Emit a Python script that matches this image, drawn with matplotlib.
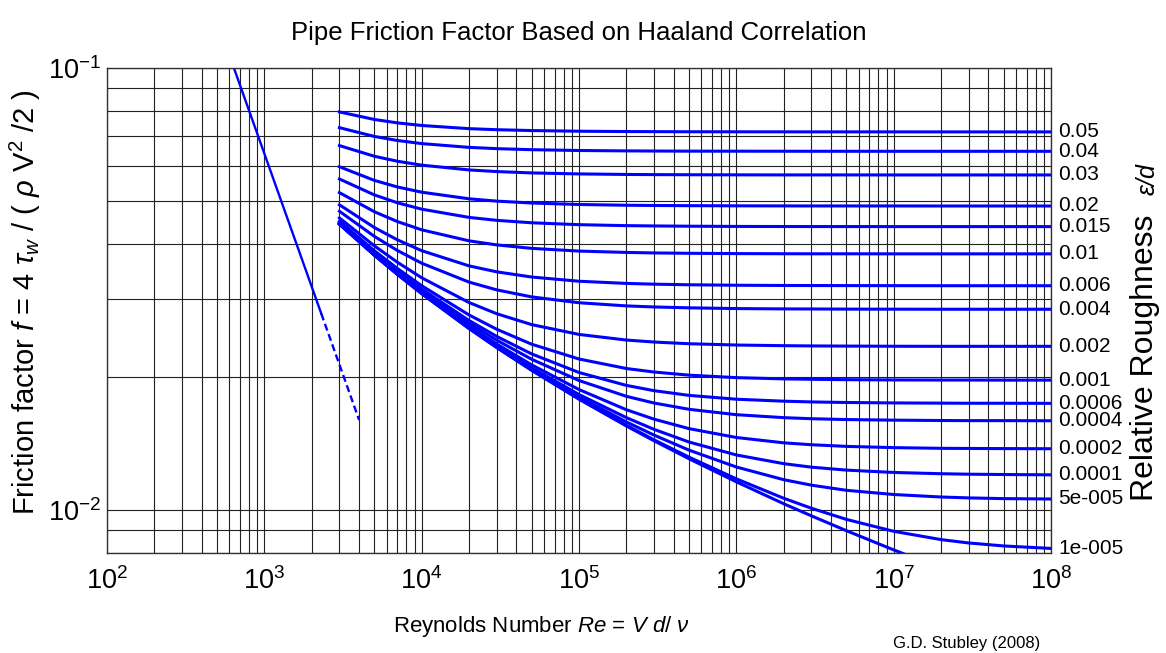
"""Pipe friction factor chart (Haaland correlation), redrawn from the reference image."""
import matplotlib

matplotlib.use("Agg")
import matplotlib.pyplot as plt
from matplotlib.ticker import LogLocator, NullFormatter, LogFormatterSciNotation

# --- data ---
RE_TURB = [3e3, 5e3, 7e3, 1e4, 2e4, 3e4, 5e4, 1e5, 2e5, 3e5,
           5e5, 1e6, 2e6, 3e6, 5e6, 1e7, 2e7, 3e7, 5e7, 1e8]

f_0p05 = [0.07954, 0.07648, 0.07514, 0.07412, 0.07291, 0.07251, 0.07219, 0.07194, 0.07182, 0.07178,
          0.07174, 0.07172, 0.07171, 0.07170, 0.07170, 0.07170, 0.07169, 0.07169, 0.07169, 0.07169]
f_0p04 = [0.07329, 0.07001, 0.06856, 0.06745, 0.06614, 0.06570, 0.06534, 0.06507, 0.06494, 0.06489,
          0.06485, 0.06483, 0.06482, 0.06481, 0.06481, 0.06480, 0.06480, 0.06480, 0.06480, 0.06480]
f_0p03 = [0.06675, 0.06315, 0.06153, 0.06029, 0.05881, 0.05831, 0.05790, 0.05760, 0.05744, 0.05739,
          0.05735, 0.05732, 0.05730, 0.05730, 0.05730, 0.05729, 0.05729, 0.05729, 0.05729, 0.05729]
f_0p02 = [0.05979, 0.05569, 0.05382, 0.05237, 0.05060, 0.04999, 0.04950, 0.04912, 0.04893, 0.04887,
          0.04882, 0.04878, 0.04876, 0.04875, 0.04875, 0.04875, 0.04874, 0.04874, 0.04874, 0.04874]
f_0p015 = [0.05610, 0.05164, 0.04957, 0.04794, 0.04593, 0.04523, 0.04466, 0.04422, 0.04400, 0.04393,
           0.04387, 0.04382, 0.04380, 0.04379, 0.04379, 0.04378, 0.04378, 0.04378, 0.04378, 0.04378]
f_0p01 = [0.05225, 0.04731, 0.04495, 0.04305, 0.04065, 0.03980, 0.03909, 0.03854, 0.03827, 0.03817,
          0.03810, 0.03804, 0.03801, 0.03800, 0.03800, 0.03799, 0.03799, 0.03799, 0.03799, 0.03799]
f_0p006 = [0.04904, 0.04357, 0.04087, 0.03862, 0.03568, 0.03459, 0.03367, 0.03294, 0.03257, 0.03244,
           0.03234, 0.03226, 0.03222, 0.03221, 0.03220, 0.03219, 0.03218, 0.03218, 0.03218, 0.03218]
f_0p004 = [0.04742, 0.04161, 0.03867, 0.03618, 0.03279, 0.03149, 0.03036, 0.02945, 0.02897, 0.02881,
           0.02868, 0.02857, 0.02852, 0.02851, 0.02849, 0.02848, 0.02847, 0.02847, 0.02847, 0.02847]
f_0p002 = [0.04580, 0.03961, 0.03637, 0.03354, 0.02948, 0.02781, 0.02628, 0.02497, 0.02425, 0.02400,
           0.02379, 0.02363, 0.02355, 0.02352, 0.02350, 0.02348, 0.02347, 0.02347, 0.02347, 0.02347]
f_0p001 = [0.04503, 0.03862, 0.03521, 0.03218, 0.02763, 0.02565, 0.02373, 0.02197, 0.02091, 0.02053,
           0.02020, 0.01994, 0.01981, 0.01977, 0.01973, 0.01970, 0.01969, 0.01969, 0.01968, 0.01968]
f_6em4 = [0.04473, 0.03824, 0.03476, 0.03163, 0.02685, 0.02471, 0.02256, 0.02048, 0.01915, 0.01863,
          0.01818, 0.01782, 0.01764, 0.01757, 0.01752, 0.01748, 0.01746, 0.01745, 0.01745, 0.01744]
f_4em4 = [0.04459, 0.03806, 0.03454, 0.03137, 0.02647, 0.02423, 0.02194, 0.01964, 0.01809, 0.01747,
          0.01691, 0.01644, 0.01619, 0.01610, 0.01603, 0.01598, 0.01595, 0.01594, 0.01594, 0.01593]
f_2em4 = [0.04446, 0.03788, 0.03433, 0.03111, 0.02609, 0.02375, 0.02131, 0.01874, 0.01687, 0.01606,
          0.01529, 0.01460, 0.01420, 0.01406, 0.01394, 0.01385, 0.01380, 0.01379, 0.01378, 0.01377]
f_1em4 = [0.04440, 0.03780, 0.03424, 0.03099, 0.02591, 0.02352, 0.02099, 0.01826, 0.01619, 0.01523,
          0.01426, 0.01333, 0.01274, 0.01251, 0.01232, 0.01217, 0.01209, 0.01206, 0.01204, 0.01202]
f_5em5 = [0.04437, 0.03776, 0.03419, 0.03093, 0.02582, 0.02341, 0.02084, 0.01803, 0.01583, 0.01478,
          0.01367, 0.01252, 0.01172, 0.01139, 0.01109, 0.01085, 0.01071, 0.01066, 0.01062, 0.01060]
f_1em5 = [0.04435, 0.03774, 0.03416, 0.03089, 0.02576, 0.02333, 0.02074, 0.01786, 0.01556, 0.01442,
          0.01318, 0.01177, 0.01064, 0.01010, 0.009532, 0.008958, 0.008579, 0.008430, 0.008300, 0.008194]
f_smooth = [0.04434, 0.03773, 0.03415, 0.03089, 0.02575, 0.02332, 0.02071, 0.01782, 0.01550, 0.01435,
            0.01307, 0.01159, 0.01034, 0.009709, 0.008988, 0.008131, 0.007391, 0.007004, 0.006558, 0.006018]

ROUGH_LABELS = ["0.05", "0.04", "0.03", "0.02", "0.015", "0.01", "0.006", "0.004",
                "0.002", "0.001", "0.0006", "0.0004", "0.0002", "0.0001",
                "5e-005", "1e-005"]
ROUGH_CURVES = [f_0p05, f_0p04, f_0p03, f_0p02, f_0p015, f_0p01, f_0p006, f_0p004,
                f_0p002, f_0p001, f_6em4, f_4em4, f_2em4, f_1em4, f_5em5, f_1em5]

# laminar line, solid up to transition then dashed
RE_LAM = [600, 2300]
F_LAM = [0.1067, 0.02783]
RE_TRANS = [2300, 4000]
F_TRANS = [0.02783, 0.0160]

BLUE = "#0000ff"
FONT = "Liberation Sans"

plt.rcParams["font.family"] = [FONT, "DejaVu Sans"]
plt.rcParams["mathtext.fontset"] = "custom"
plt.rcParams["mathtext.rm"] = FONT
plt.rcParams["mathtext.it"] = FONT + ":italic"
plt.rcParams["axes.unicode_minus"] = False

fig = plt.figure(figsize=(11.66, 6.53), dpi=100)
ax = fig.add_axes([0.0918, 0.1531, 0.8096, 0.7428])

ax.plot(RE_LAM, F_LAM, color=BLUE, lw=1.7)
ax.plot(RE_TRANS, F_TRANS, color=BLUE, lw=1.7, dashes=(3, 1.6))
for vals in ROUGH_CURVES:
    ax.plot(RE_TURB, vals, color=BLUE, lw=2.2, solid_joinstyle="round")
ax.plot(RE_TURB, f_smooth, color=BLUE, lw=2.2, solid_joinstyle="round")

ax.set_xscale("log")
ax.set_yscale("log")
ax.set_xlim(1e2, 1e8)
ax.set_ylim(0.008, 0.1)

ax.xaxis.set_minor_locator(LogLocator(base=10, subs=range(2, 10), numticks=20))
ax.yaxis.set_minor_locator(LogLocator(base=10, subs=range(2, 10), numticks=20))
ax.xaxis.set_minor_formatter(NullFormatter())
ax.yaxis.set_minor_formatter(NullFormatter())
ax.xaxis.set_major_formatter(LogFormatterSciNotation())
ax.yaxis.set_major_formatter(LogFormatterSciNotation())
ax.grid(which="both", color="#222222", lw=0.8)
ax.set_axisbelow(True)
ax.tick_params(which="both", length=0, labelsize=19.5)
ax.tick_params(axis="x", pad=10)
ax.tick_params(axis="y", pad=4)
for sp in ax.spines.values():
    sp.set_color("#333333")
    sp.set_linewidth(1.0)

# roughness labels at right end of each curve
for lab, vals in zip(ROUGH_LABELS, ROUGH_CURVES):
    ax.annotate(lab, xy=(1e8, vals[-1]), xytext=(5, 0), textcoords="offset points",
                va="center", ha="left", fontsize=15, annotation_clip=False)

fig.text(0.496, 0.950, "Pipe Friction Factor Based on Haaland Correlation",
         ha="center", va="center", fontsize=18.5)
fig.text(0.464, 0.041, r"Reynolds Number $Re$ = $V$ $d$/ $\nu$",
         ha="center", va="center", fontsize=16)
fig.text(0.022, 0.5375, r"Friction factor $f$ = 4 $\tau_{w}$ / ( $\rho$ V$^{2}$ /2 )",
         ha="center", va="center", rotation=90, fontsize=21)
fig.text(0.982, 0.452, "Relative Roughness", ha="center", va="center",
         rotation=90, fontsize=23)
fig.text(0.9845, 0.726, r"$\varepsilon$/$d$", ha="center", va="center",
         rotation=90, fontsize=18, style="italic")
fig.text(0.829, 0.015, "G.D. Stubley (2008)", ha="center", va="center", fontsize=12)

fig.savefig("out.png", dpi=100)
